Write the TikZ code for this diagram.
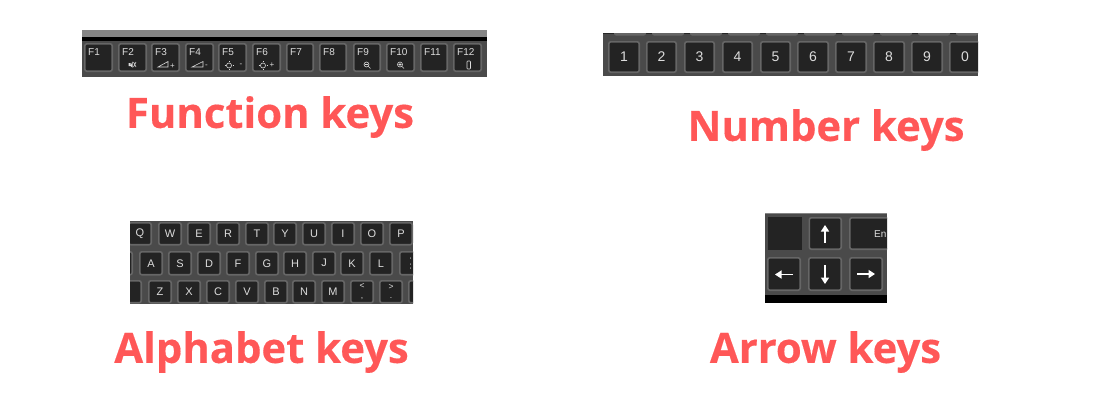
\documentclass[tikz,border=0pt]{standalone}
\usepackage{fontspec}
\setmainfont{Liberation Sans}
\newfontfamily\headfont[BoldFeatures={FakeBold=0.35}]{Open Sans}
\definecolor{headred}{HTML}{FF5757}
\definecolor{panelgray}{HTML}{4A4A4A}
\definecolor{keyfill}{HTML}{232323}
\definecolor{keyedge}{HTML}{666666}
\definecolor{stripe}{HTML}{858585}
\definecolor{keytext}{HTML}{DCDCDC}
\tikzset{
  head/.style={font=\headfont\bfseries\fontsize{41.8}{42}\selectfont,text=headred,inner sep=0pt,anchor=center},
  panel/.style={fill=panelgray,draw=none},
  kbd/.style={draw=keyedge,fill=keyfill,line width=1.6pt,rounded corners=2pt,inner sep=0pt,text=keytext,font=\fontsize{11}{11}\selectfont},
  ftext/.style={inner sep=0pt,text=keytext,font=\fontsize{10}{10}\selectfont},
  icontext/.style={inner sep=0pt,text=keytext,font=\fontsize{8}{8}\selectfont},
  icon/.style={draw=keytext,line width=.6pt},
  arr/.style={draw=white,line width=1.6pt,-{Triangle[width=8pt,length=6.5pt]}}
}
\usetikzlibrary{arrows.meta}
% name, x0, x1, y0, y1, label
\newcommand\kk[7][]{%
  \pgfmathsetmacro\kw{(#4)-(#3)-1.6}\pgfmathsetmacro\kh{(#6)-(#5)-1.6}%
  \node[kbd,#1,minimum width=\kw pt,minimum height=\kh pt] (#2) at ({((#3)+(#4))/2},{((#5)+(#6))/2}) {#7};}
\begin{document}
\begin{tikzpicture}[x=1pt,y=-1pt]
\useasboundingbox (0,0) rectangle (1100,400);
\fill[white] (0,0) rectangle (1100,400);

% ---------- Function keys
\fill[panel] (82,30) rectangle (487,77);
\fill[stripe] (82,30) rectangle (487,37);
\fill[black] (82,37) rectangle (487,41);
\begin{scope}
\clip (82,30) rectangle (487,77);
\foreach \n/\a/\b/\t in {1/84/113/F1,2/118/147/F2,3/151/180/F3,4/185/214/F4,5/218/247/F5,6/252/281/F6,7/286/314/F7,8/319/347/F8,9/353/381/F9,10/386/415/F10,11/420/448/F11,12/453/482/F12}{
  \kk{f\n}{\a}{\b}{43}{72}{}
  \node[ftext,anchor=west] (fl\n) at (\a+4,52.5) {\t};
}
\end{scope}
% small legends of the function keys
\fill[keytext] (128.5,63) rectangle (130.5,66) -- (132.5,61.5) -- (132.5,67.5) -- (130.5,66);
\draw[icon] (133.5,62) -- (136,67) (136,62) -- (133.5,67);
\draw[icon] (158,67) -- (168,67) -- (168,61.5) -- cycle;
\node[icontext] (p3) at (172.5,66) {+};
\draw[icon] (192,67) -- (203,67) -- (203,61.5) -- cycle;
\node[icontext] (m4) at (206.5,66) {-};
\draw[icon] (229,65.5) circle (2.5);
\draw[icon] (229,61)--(229,62) (229,69)--(229,70) (224.5,65.5)--(225.5,65.5) (232.5,65.5)--(233.5,65.5);
\node[icontext] (m5) at (241,65.5) {-};
\draw[icon] (263,65.5) circle (2.5);
\draw[icon] (263,61)--(263,62) (263,69)--(263,70) (258.5,65.5)--(259.5,65.5) (266.5,65.5)--(267.5,65.5);
\node[icontext] (p6) at (272,65.5) {+};
\draw[icon] (366.5,64.5) circle (2.5) (368.3,66.3) -- (370.5,68.5) (365.2,64.5) -- (367.8,64.5);
\draw[icon] (400,64.5) circle (2.5) (401.8,66.3) -- (404,68.5) (398.7,64.5) -- (401.3,64.5) (400,63.2) -- (400,65.8);
\draw[icon,rounded corners=.8pt] (467,61) rectangle (470.5,69);

% ---------- Number keys
\fill[panel] (603,33) rectangle (978,76);
\fill[black!85] (603,33) rectangle (978,34);
\begin{scope}
\clip (603,33) rectangle (978,76);
\foreach \a/\b in {614/646,652/684,690/722,728/760,766/798,804/836,842/874,880/912,918/950,956/978}{
  \fill[keyedge,rounded corners=2pt] (\a,28) rectangle (\b,35.5);
}
\foreach \n/\a/\b/\t in {1/608/640/1,2/646/677/2,3/684/715/3,4/722/753/4,5/760/791/5,6/797/829/6,7/835/867/7,8/873/905/8,9/911/943/9,0/949/981/0}{
  \kk[font=\fontsize{14}{14}\selectfont]{n\n}{\a}{\b}{41}{73}{\t}
}
\end{scope}

% ---------- Alphabet keys
\fill[panel] (130,221) rectangle (413,304);
\begin{scope}
\clip (130,221) rectangle (413,304);
\foreach \t/\c in {Q/140,W/170,E/199,R/228,T/257,Y/285,U/314,I/343,O/372,P/401}{
  \kk{a\t}{\c-12}{\c+12}{222}{245.5}{\t}
}
\kk{aleft}{120}{133}{251}{275.5}{}
\foreach \t/\c in {A/151,S/180,D/209,F/238,G/267,H/295,J/324,K/352,L/381}{
  \kk{a\t}{\c-12}{\c+12}{251}{275.5}{\t}
}
\kk{asemi}{399}{423}{251}{275.5}{}
\kk{acorner}{120}{142}{280}{303.5}{}
\foreach \t/\c in {Z/160,X/189,C/218,V/247,B/276,N/304,M/333}{
  \kk{a\t}{\c-12}{\c+12}{280}{303.5}{\t}
}
\kk[font=\fontsize{8.5}{8.5}\selectfont,align=center]{alt}{350}{374}{280}{303.5}{<\\[1pt],}
\kk[font=\fontsize{8.5}{8.5}\selectfont,align=center]{agt}{379}{403}{280}{303.5}{>\\[1pt].}
\kk{aright}{408}{430}{280}{303.5}{}
\end{scope}
\fill[keytext] (410.6,258) circle (.6) (410.6,264) circle (.6) (410.6,268) circle (.6);

% ---------- Arrow keys
\fill[panel] (765,213) rectangle (887,303);
\fill[stripe] (765,213) rectangle (887,214);
\fill[black] (765,295) rectangle (887,303);
\begin{scope}
\clip (765,213) rectangle (887,303);
\node[fill=keyfill,draw=none,minimum width=34pt,minimum height=33pt,inner sep=0pt] (ablank) at (785,233.5) {};
\kk{aup}{808.5}{842}{217}{250}{}
\kk{aenter}{849}{895}{217}{250}{}
\node[inner sep=0pt,text=keytext,font=\fontsize{10}{10}\selectfont,anchor=west] (entl) at (874,234) {En};
\kk{aleftk}{767}{801}{257}{291}{}
\kk{adown}{808}{842}{257}{291}{}
\kk{aright2}{849}{883}{257}{291}{}
\end{scope}
\coordinate (u1) at (825,243); \coordinate (u2) at (825,225);
\coordinate (l1) at (793,274.5); \coordinate (l2) at (775,274.5);
\coordinate (d1) at (825,265); \coordinate (d2) at (825,284);
\coordinate (r1) at (857,274); \coordinate (r2) at (875,274);
\draw[arr] (u1) -- (u2);
\draw[arr] (l1) -- (l2);
\draw[arr] (d1) -- (d2);
\draw[arr] (r1) -- (r2);

% ---------- Headings
\node[head] (hf) at (270,117) {Function keys};
\node[head] (hn) at (826,130) {Number keys};
\node[head] (ha) at (261.5,352) {Alphabet keys};
\node[head] (hr) at (825.5,352) {Arrow keys};
\end{tikzpicture}
\end{document}
